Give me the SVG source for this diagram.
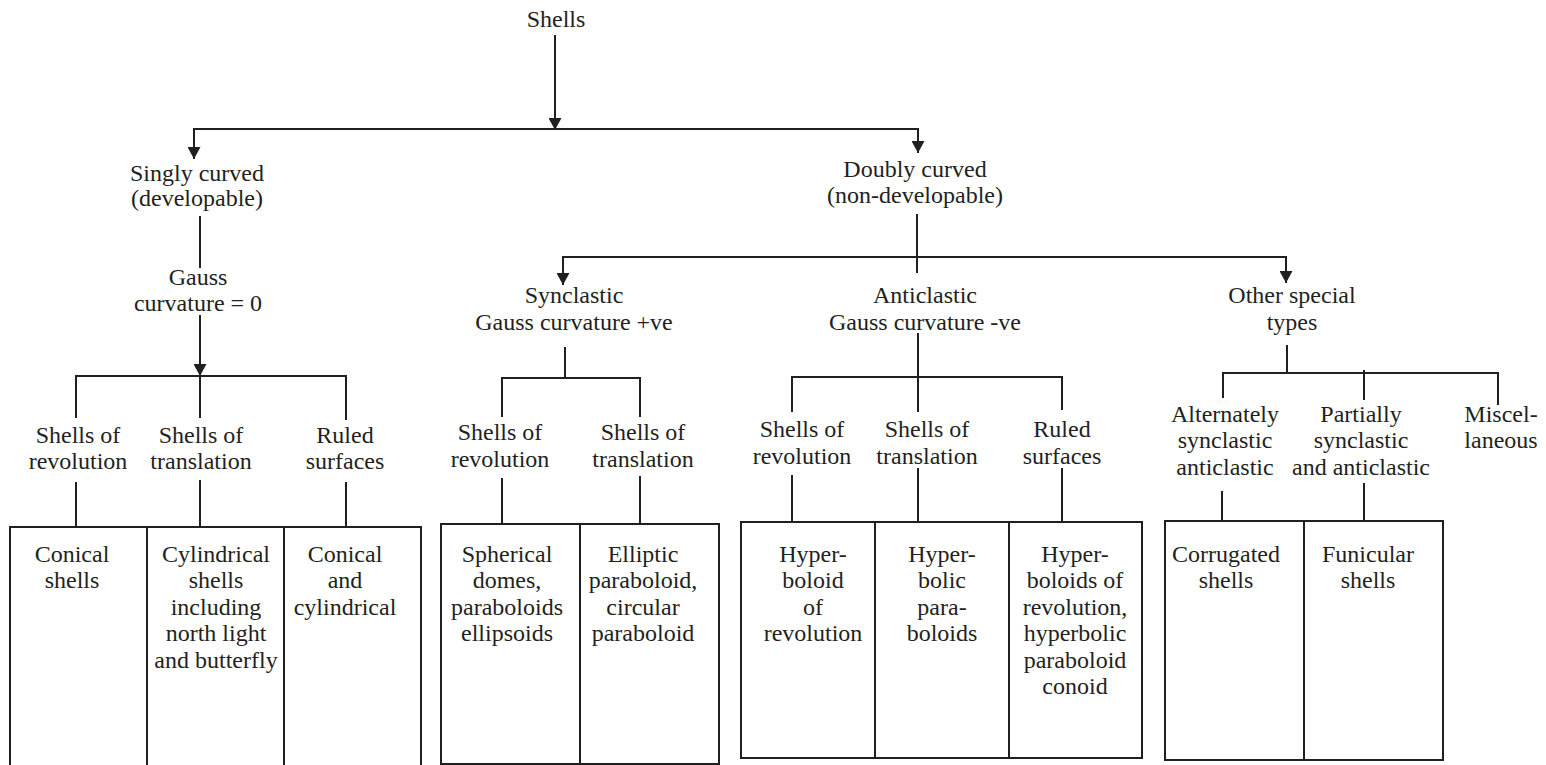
<svg xmlns="http://www.w3.org/2000/svg" width="1546" height="765" viewBox="0 0 1546 765">
  <defs>
    <marker id="arrow" markerUnits="userSpaceOnUse" markerWidth="13" markerHeight="13" refX="12" refY="6.5" orient="auto">
      <path d="M0,0 L12,6.5 L0,13 z" fill="#231f20"/>
    </marker>
    <style>
      .lbl { font-family: "Liberation Serif", "Times New Roman", serif; font-size: 24px; fill: #231f20; text-anchor: middle; }
      .ln { stroke: #231f20; stroke-width: 2; fill: none; }
      .box { stroke: #231f20; stroke-width: 2; fill: #ffffff; }
    </style>
  </defs>
  <rect width="1546" height="765" fill="#ffffff"/>

  <!-- connectors -->
  <g id="connectors">
    <!-- root to first split -->
    <line class="ln" x1="555" y1="35" x2="555" y2="130" marker-end="url(#arrow)"/>
    <polyline class="ln" points="555,129 194,129 194,159" marker-end="url(#arrow)"/>
    <polyline class="ln" points="555,129 918,129 918,153" marker-end="url(#arrow)"/>

    <!-- singly curved branch -->
    <line class="ln" x1="200" y1="216" x2="200" y2="268"/>
    <line class="ln" x1="200" y1="315" x2="200" y2="376" marker-end="url(#arrow)"/>
    <polyline class="ln" points="76,418 76,376 346,376 346,420"/>
    <line class="ln" x1="200" y1="376" x2="200" y2="418"/>
    <line class="ln" x1="76" y1="482" x2="76" y2="527"/>
    <line class="ln" x1="200" y1="480" x2="200" y2="527"/>
    <line class="ln" x1="346" y1="482" x2="346" y2="527"/>

    <!-- doubly curved branch -->
    <line class="ln" x1="917" y1="214" x2="917" y2="273"/>
    <polyline class="ln" points="917,257 563,257 563,285" marker-end="url(#arrow)"/>
    <polyline class="ln" points="917,257 1286,257 1286,283" marker-end="url(#arrow)"/>

    <!-- synclastic -->
    <line class="ln" x1="565" y1="347" x2="565" y2="378"/>
    <polyline class="ln" points="502,417 502,378 640,378 640,417"/>
    <line class="ln" x1="502" y1="478" x2="502" y2="524"/>
    <line class="ln" x1="640" y1="476" x2="640" y2="524"/>

    <!-- anticlastic -->
    <line class="ln" x1="918" y1="333" x2="918" y2="412"/>
    <polyline class="ln" points="792,412 792,377 1062,377 1062,410"/>
    <line class="ln" x1="792" y1="475" x2="792" y2="522"/>
    <line class="ln" x1="918" y1="468" x2="918" y2="522"/>
    <line class="ln" x1="1062" y1="468" x2="1062" y2="522"/>

    <!-- other special types -->
    <line class="ln" x1="1287" y1="345" x2="1287" y2="373"/>
    <polyline class="ln" points="1223,398 1223,373 1498,373 1498,405"/>
    <line class="ln" x1="1364" y1="370" x2="1364" y2="400"/>
    <line class="ln" x1="1222" y1="491" x2="1222" y2="521"/>
    <line class="ln" x1="1364" y1="483" x2="1364" y2="521"/>
  </g>

  <!-- top levels -->
  <g id="shells"><text class="lbl" x="556" y="27">Shells</text></g>
  <g id="singly-curved">
    <text class="lbl" x="197" y="181">Singly curved</text>
    <text class="lbl" x="197" y="206">(developable)</text>
  </g>
  <g id="doubly-curved">
    <text class="lbl" x="915" y="177">Doubly curved</text>
    <text class="lbl" x="915" y="203">(non-developable)</text>
  </g>
  <g id="gauss-zero">
    <text class="lbl" x="198" y="285">Gauss</text>
    <text class="lbl" x="198" y="311">curvature = 0</text>
  </g>
  <g id="synclastic">
    <text class="lbl" x="574" y="303">Synclastic</text>
    <text class="lbl" x="574" y="330">Gauss curvature +ve</text>
  </g>
  <g id="anticlastic">
    <text class="lbl" x="925" y="303">Anticlastic</text>
    <text class="lbl" x="925" y="330">Gauss curvature -ve</text>
  </g>
  <g id="other-special">
    <text class="lbl" x="1292" y="303">Other special</text>
    <text class="lbl" x="1292" y="330">types</text>
  </g>

  <!-- third level: singly curved -->
  <g id="s-revolution">
    <text class="lbl" x="78" y="443">Shells of</text>
    <text class="lbl" x="78" y="469">revolution</text>
  </g>
  <g id="s-translation">
    <text class="lbl" x="201" y="443">Shells of</text>
    <text class="lbl" x="201" y="469">translation</text>
  </g>
  <g id="s-ruled">
    <text class="lbl" x="345" y="443">Ruled</text>
    <text class="lbl" x="345" y="469">surfaces</text>
  </g>

  <!-- third level: synclastic -->
  <g id="syn-revolution">
    <text class="lbl" x="500" y="440">Shells of</text>
    <text class="lbl" x="500" y="467">revolution</text>
  </g>
  <g id="syn-translation">
    <text class="lbl" x="643" y="440">Shells of</text>
    <text class="lbl" x="643" y="467">translation</text>
  </g>

  <!-- third level: anticlastic -->
  <g id="anti-revolution">
    <text class="lbl" x="802" y="437">Shells of</text>
    <text class="lbl" x="802" y="464">revolution</text>
  </g>
  <g id="anti-translation">
    <text class="lbl" x="927" y="437">Shells of</text>
    <text class="lbl" x="927" y="464">translation</text>
  </g>
  <g id="anti-ruled">
    <text class="lbl" x="1062" y="437">Ruled</text>
    <text class="lbl" x="1062" y="464">surfaces</text>
  </g>

  <!-- third level: other special types -->
  <g id="alternately">
    <text class="lbl" x="1225" y="422">Alternately</text>
    <text class="lbl" x="1225" y="448">synclastic</text>
    <text class="lbl" x="1225" y="475">anticlastic</text>
  </g>
  <g id="partially">
    <text class="lbl" x="1361" y="422">Partially</text>
    <text class="lbl" x="1361" y="448">synclastic</text>
    <text class="lbl" x="1361" y="475">and anticlastic</text>
  </g>
  <g id="miscellaneous">
    <text class="lbl" x="1501" y="422">Miscel-</text>
    <text class="lbl" x="1501" y="448">laneous</text>
  </g>

  <!-- example boxes: singly curved -->
  <g id="box-conical">
    <rect class="box" x="10" y="527" width="137" height="250"/>
    <text class="lbl" x="72" y="562">Conical</text>
    <text class="lbl" x="72" y="588">shells</text>
  </g>
  <g id="box-cylindrical">
    <rect class="box" x="147" y="527" width="137" height="250"/>
    <text class="lbl" x="216" y="562">Cylindrical</text>
    <text class="lbl" x="216" y="588">shells</text>
    <text class="lbl" x="216" y="615">including</text>
    <text class="lbl" x="216" y="641">north light</text>
    <text class="lbl" x="216" y="668">and butterfly</text>
  </g>
  <g id="box-conical-cyl">
    <rect class="box" x="284" y="527" width="137" height="250"/>
    <text class="lbl" x="345" y="562">Conical</text>
    <text class="lbl" x="345" y="588">and</text>
    <text class="lbl" x="345" y="615">cylindrical</text>
  </g>

  <!-- example boxes: synclastic -->
  <g id="box-spherical">
    <rect class="box" x="441" y="524" width="139" height="240"/>
    <text class="lbl" x="507" y="562">Spherical</text>
    <text class="lbl" x="507" y="588">domes,</text>
    <text class="lbl" x="507" y="615">paraboloids</text>
    <text class="lbl" x="507" y="641">ellipsoids</text>
  </g>
  <g id="box-elliptic">
    <rect class="box" x="580" y="524" width="139" height="240"/>
    <text class="lbl" x="643" y="562">Elliptic</text>
    <text class="lbl" x="643" y="588">paraboloid,</text>
    <text class="lbl" x="643" y="615">circular</text>
    <text class="lbl" x="643" y="641">paraboloid</text>
  </g>

  <!-- example boxes: anticlastic -->
  <g id="box-hyperboloid">
    <rect class="box" x="741" y="522" width="134" height="236"/>
    <text class="lbl" x="813" y="562">Hyper-</text>
    <text class="lbl" x="813" y="588">boloid</text>
    <text class="lbl" x="813" y="615">of</text>
    <text class="lbl" x="813" y="641">revolution</text>
  </g>
  <g id="box-hyperbolic">
    <rect class="box" x="875" y="522" width="134" height="236"/>
    <text class="lbl" x="942" y="562">Hyper-</text>
    <text class="lbl" x="942" y="588">bolic</text>
    <text class="lbl" x="942" y="615">para-</text>
    <text class="lbl" x="942" y="641">boloids</text>
  </g>
  <g id="box-hyperboloids-ruled">
    <rect class="box" x="1009" y="522" width="133" height="236"/>
    <text class="lbl" x="1075" y="562">Hyper-</text>
    <text class="lbl" x="1075" y="588">boloids of</text>
    <text class="lbl" x="1075" y="615">revolution,</text>
    <text class="lbl" x="1075" y="641">hyperbolic</text>
    <text class="lbl" x="1075" y="668">paraboloid</text>
    <text class="lbl" x="1075" y="694">conoid</text>
  </g>

  <!-- example boxes: other special types -->
  <g id="box-corrugated">
    <rect class="box" x="1165" y="521" width="139" height="239"/>
    <text class="lbl" x="1226" y="562">Corrugated</text>
    <text class="lbl" x="1226" y="588">shells</text>
  </g>
  <g id="box-funicular">
    <rect class="box" x="1304" y="521" width="139" height="239"/>
    <text class="lbl" x="1368" y="562">Funicular</text>
    <text class="lbl" x="1368" y="588">shells</text>
  </g>
</svg>
